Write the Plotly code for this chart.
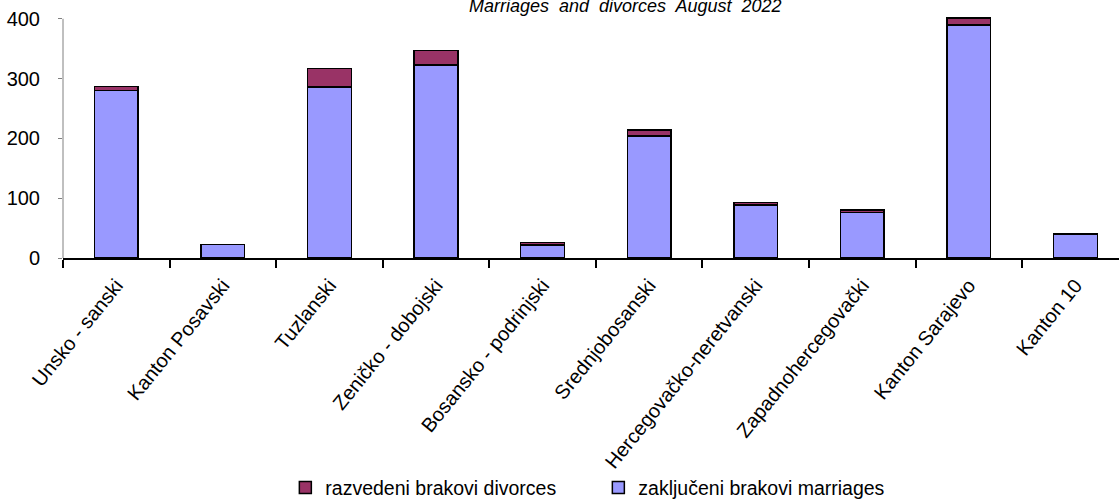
import plotly.graph_objects as go

categories = ["Unsko - sanski", "Kanton Posavski", "Tuzlanski", "Zeničko - dobojski",
              "Bosansko - podrinjski", "Srednjobosanski", "Hercegovačko-neretvanski",
              "Zapadnohercegovački", "Kanton Sarajevo", "Kanton 10"]
marriages = [280, 23, 286, 323, 22, 204, 89, 76, 390, 40]
divorces = [7, 0, 31, 24, 4, 10, 4, 4, 11, 0]
y_ticks = [0, 100, 200, 300, 400]
title_text = "Marriages&nbsp; and&nbsp; divorces&nbsp; August&nbsp; 2022"

W, H = 1119, 502
y_top = 403
px_per_unit = 239.3 / 400
L, B = 62.7, 243.7
T = (H - B) - y_top * px_per_unit
cat_w = 106.6
x_max = (W - L) / cat_w - 0.5

fig = go.Figure()
fig.add_trace(go.Bar(
    x=categories, y=marriages, name="zaključeni brakovi marriages",
    marker=dict(color="#9999FF", line=dict(color="black", width=1.5)),
    width=0.41,
))
fig.add_trace(go.Bar(
    x=categories, y=divorces, name="razvedeni brakovi divorces",
    marker=dict(color="#993366", line=dict(color="black", width=1.5)),
    width=0.41,
))

font_family = "Liberation Sans, Arial, sans-serif"

fig.update_layout(
    barmode="stack",
    width=W, height=H,
    margin=dict(l=L, r=0, t=T, b=B, autoexpand=False),
    plot_bgcolor="white", paper_bgcolor="white",
    font=dict(family=font_family, color="black"),
    showlegend=True,
    legend=dict(
        orientation="h", traceorder="reversed",
        xref="container", yref="container",
        x=0.255, y=0.028, xanchor="left", yanchor="middle",
        font=dict(size=19.5, family=font_family, color="black"),
        entrywidth=268, entrywidthmode="pixels",
        bgcolor="rgba(0,0,0,0)",
    ),
    xaxis=dict(
        type="category", range=[-0.5, x_max],
        showline=True, linecolor="black", linewidth=1.5,
        ticks="outside", tickson="boundaries", ticklen=8, tickcolor="black", tickwidth=1.5,
        tickangle=-51, tickfont=dict(size=20, family=font_family, color="black"),
        ticklabelstandoff=6,
        showgrid=False, zeroline=False,
    ),
    yaxis=dict(
        range=[0, y_top], tickvals=y_ticks,
        showline=False,
        ticks="outside", ticklen=4, tickcolor="#808080",
        tickfont=dict(size=20, family=font_family, color="black"),
        ticklabelstandoff=14,
        showgrid=False, zeroline=False,
    ),
    shapes=[dict(
        type="line", xref="paper", yref="y", x0=0, x1=0, y0=0, y1=400,
        line=dict(color="#808080", width=1), layer="below",
    )],
    annotations=[dict(
        text=title_text, xref="paper", yref="y",
        x=0.533, y=y_top - 2, xanchor="center", yanchor="bottom",
        showarrow=False,
        font=dict(size=18, family=font_family, color="black", style="italic"),
    )],
)

fig.write_html(
    "out.html",
    config={"displayModeBar": False},
    post_script="document.body.style.margin='0px';document.body.style.overflow='hidden';",
)
